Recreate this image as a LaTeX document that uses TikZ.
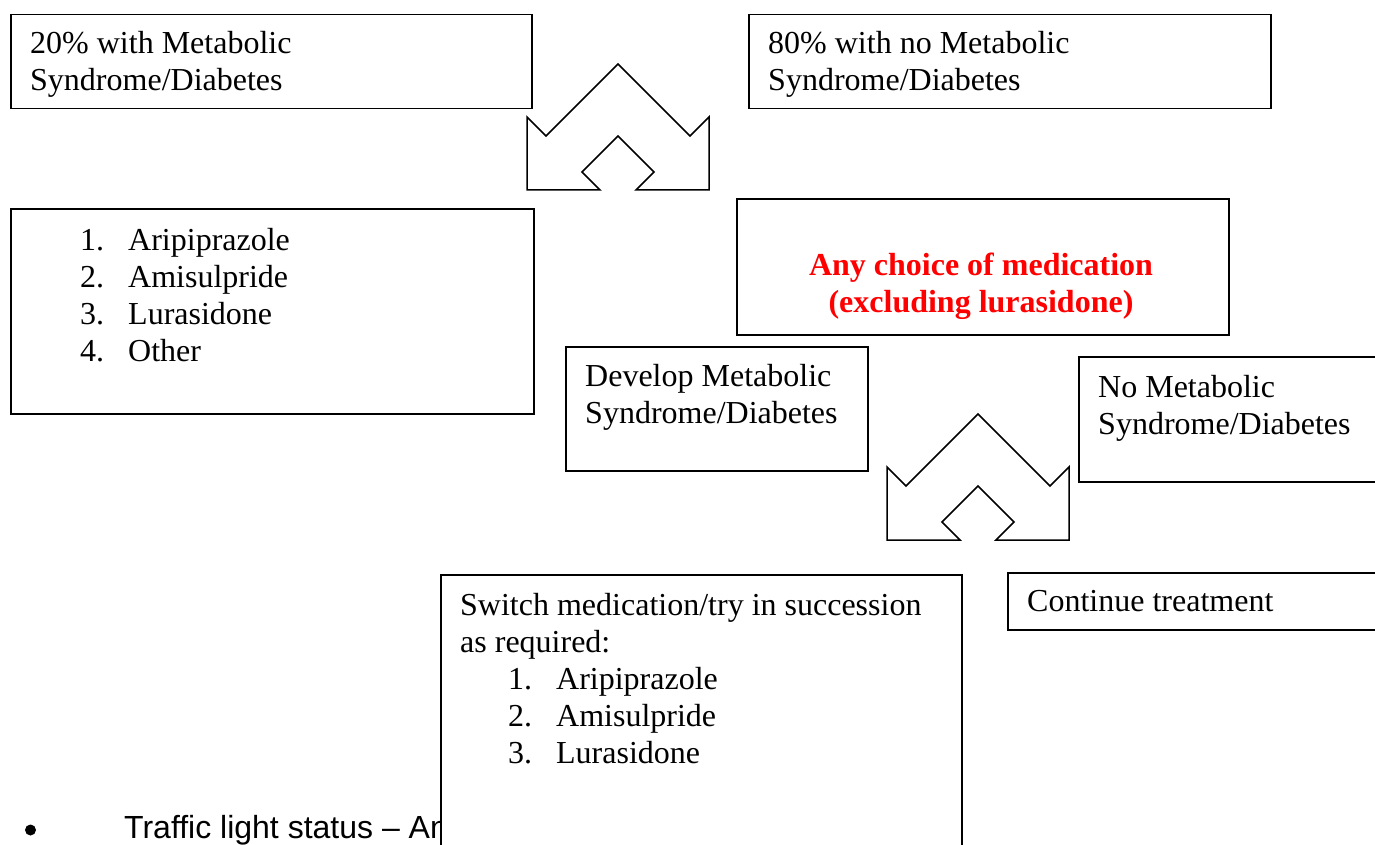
\documentclass[tikz,border=0pt]{standalone}
\usepackage{fontspec}
\setmainfont{Liberation Serif}
\newfontfamily\arialfont{Liberation Sans}
\usetikzlibrary{positioning}

\begin{document}
\begin{tikzpicture}[x=1pt,y=-1pt]
\tikzstyle{every node}+=[inner sep=0pt]
\tikzstyle{box}=[draw=black,line width=1.5pt,fill=white,rectangle,anchor=north west]
\tikzstyle{boxtext}=[anchor=base west,align=left,font=\fontsize{32}{37}\selectfont]
\tikzstyle{arrowshape}=[draw=black,line width=1.5pt,fill=white,line join=miter]
\newcommand{\itemno}[1]{\makebox[48pt][l]{#1}}
\useasboundingbox (0,0) rectangle (1375,845);
% top row (text nodes are placed by the baseline of their last line)
\node [box,minimum width=521pt,minimum height=94pt] (withms) at (10,14) {};
\node [boxtext] (withmstext) at ([shift={(20,77)}]withms.north west) {20\% with Metabolic\\Syndrome/Diabetes};
\node [box,minimum width=522pt,minimum height=94pt] (noms) at (748,14) {};
\node [boxtext] (nomstext) at ([shift={(20,77)}]noms.north west) {80\% with no Metabolic\\Syndrome/Diabetes};
% split arrows
\foreach \ax/\ay in {618/64, 978/414}
  \draw [arrowshape] (\ax,\ay) -- ++(72,72) -- ++(19,-19) -- ++(0,73) -- ++(-73,0)
    -- ++(18,-18) -- ++(-36,-36) -- ++(-36,36) -- ++(18,18) -- ++(-73,0)
    -- ++(0,-73) -- ++(19,19) -- cycle;
% first choices
\node [box,minimum width=523pt,minimum height=205pt] (firstlist) at (10,208) {};
\node [boxtext] (firstlisttext) at ([shift={(70,153)}]firstlist.north west)
  {\itemno{1.}Aripiprazole\\\itemno{2.}Amisulpride\\\itemno{3.}Lurasidone\\\itemno{4.}Other};
\node [box,minimum width=492pt,minimum height=136pt] (anychoice) at (736,198) {};
\node [boxtext,anchor=base,align=center,text=red,font=\fontsize{32}{37}\selectfont\bfseries] (anychoicetext)
  at (981,312) {Any choice of medication\\(excluding lurasidone)};
% outcomes
\node [box,minimum width=302pt,minimum height=124pt] (develop) at (565,346) {};
\node [boxtext] (developtext) at ([shift={(20,77)}]develop.north west) {Develop Metabolic\\Syndrome/Diabetes};
\node [box,minimum width=330pt,minimum height=125pt] (nodevelop) at (1078,356) {};
\node [boxtext] (nodeveloptext) at ([shift={(20,78)}]nodevelop.north west) {No Metabolic\\Syndrome/Diabetes};
% bullet line (partly hidden by the switch box)
\fill [black] (30.5,830) circle (5.5pt);
\node [anchor=base west,font=\arialfont\fontsize{32}{37}\selectfont] (traffic) at (124,838) {Traffic light status – An};
% second choices
\node [box,minimum width=521pt,minimum height=300pt] (switch) at (440,574) {};
\node [boxtext] (switchtext) at ([shift={(20,189)}]switch.north west)
  {Switch medication/try in succession\\as required:\\
   \hspace*{48pt}\itemno{1.}Aripiprazole\\\hspace*{48pt}\itemno{2.}Amisulpride\\\hspace*{48pt}\itemno{3.}Lurasidone};
\node [box,minimum width=400pt,minimum height=57pt] (continue) at (1007,572) {};
\node [boxtext] (continuetext) at ([shift={(20,39)}]continue.north west) {Continue treatment};
\end{tikzpicture}
\end{document}
